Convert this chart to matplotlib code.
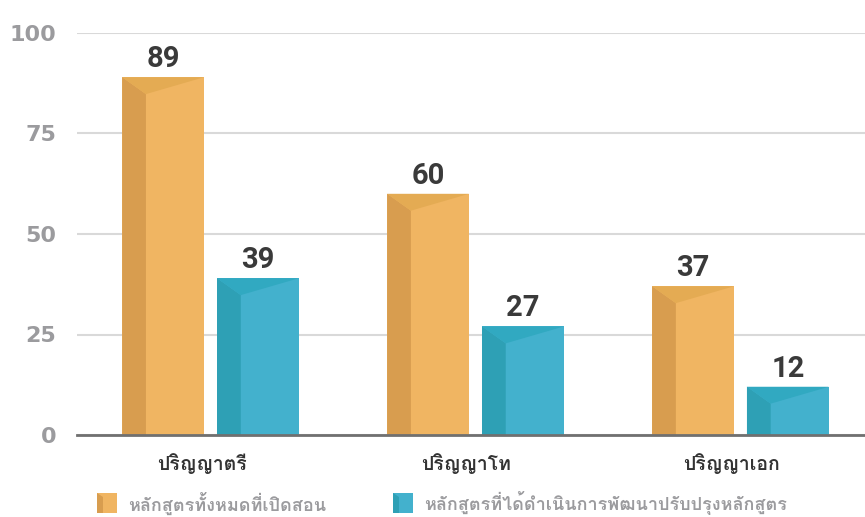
import matplotlib
matplotlib.use('Agg')
import matplotlib.pyplot as plt
import matplotlib.transforms as mtransforms
from matplotlib import font_manager
from matplotlib.ft2font import FT2Font
from matplotlib.patches import Polygon

# look for any installed font that actually has Thai glyphs
thai_font = 'DejaVu Sans'
for f in font_manager.fontManager.ttflist:
    try:
        if 0x0E01 in FT2Font(f.fname).get_charmap():
            thai_font = f.name
            break
    except Exception:
        pass

categories = ['ปริญญาตรี', 'ปริญญาโท', 'ปริญญาเอก']
series_names = ['หลักสูตรทั้งหมดที่เปิดสอน', 'หลักสูตรที่ได้ดำเนินการพัฒนาปรับปรุงหลักสูตร']
all_courses = [89, 60, 37]
improved_courses = [39, 27, 12]
yticks = [0, 25, 50, 75, 100]

# front, left side, top colours
orange = ('#F0B562', '#D89D4F', '#E4AB53')
teal = ('#43B1CD', '#2EA0B5', '#31A9C1')

fig = plt.figure(figsize=(8.65, 5.17), dpi=100)
ax = fig.add_axes([77/865, 1-435/517, 1-77/865, (435-33)/517])

bar_w = 0.309
offset = 0.179
side_frac = 0.29    # darker left strip, share of bar width
top_drop = 4.2      # how far the top triangle dips, data units

def draw_3d_bars(xs, vals, cols):
    bars = ax.bar(xs, vals, width=bar_w, color=cols[0], zorder=3)
    for b in bars:
        x0 = b.get_x()
        x1 = x0 + b.get_width()
        h = b.get_height()
        xm = x0 + side_frac * b.get_width()
        ax.add_patch(Polygon([(x0, 0), (x0, h), (xm, h - top_drop), (xm, 0)],
                             closed=True, facecolor=cols[1], edgecolor='none', zorder=4))
        ax.add_patch(Polygon([(x0, h), (x1, h), (xm, h - top_drop)],
                             closed=True, facecolor=cols[2], edgecolor='none', zorder=4))
        ax.text(b.get_x() + b.get_width()/2, h + 1.0, str(h), ha='center', va='bottom',
                fontsize=21, fontweight='bold', color='#3A3A3A', family=['Roboto', 'DejaVu Sans'])
    return bars

xs = list(range(len(categories)))
draw_3d_bars([x - offset for x in xs], all_courses, orange)
draw_3d_bars([x + offset for x in xs], improved_courses, teal)

ax.set_xlim(-0.504, 2.470)
ax.set_ylim(0, 100)
ax.set_yticks(yticks)
ax.set_yticklabels([str(t) for t in yticks], fontsize=16, fontweight='bold', color='#9B9B9E')
ax.tick_params(axis='y', length=0, pad=15)
ax.yaxis.grid(True, color='#D9D9D9', lw=1.5, zorder=0)
ax.set_axisbelow(True)
for s in ['top', 'right', 'left']:
    ax.spines[s].set_visible(False)
ax.spines['bottom'].set_color('#707070')
ax.spines['bottom'].set_linewidth(2)
ax.spines['bottom'].set_zorder(5)

ax.set_xticks(xs)
ax.set_xticklabels(categories, fontsize=14, fontweight='bold', color='#333333',
                   family=[thai_font, 'DejaVu Sans'])
ax.tick_params(axis='x', length=0, pad=13)
# the category names sit a little left of the group centre in the original
shift = mtransforms.ScaledTranslation(-9/100, 0, fig.dpi_scale_trans)
for lab in ax.get_xticklabels():
    lab.set_transform(lab.get_transform() + shift)

# legend drawn by hand as little 3d squares plus text
def legend_item(xpix, cols, label):
    lx = xpix / 865
    ly = 1 - 513/517
    w = 20/865
    hgt = 20/517
    fig.patches.append(Polygon([(lx, ly), (lx + w, ly), (lx + w, ly + hgt), (lx, ly + hgt)],
                               closed=True, transform=fig.transFigure, facecolor=cols[0], edgecolor='none'))
    fig.patches.append(Polygon([(lx, ly), (lx + 0.3*w, ly), (lx + 0.3*w, ly + hgt*0.8), (lx, ly + hgt)],
                               closed=True, transform=fig.transFigure, facecolor=cols[1], edgecolor='none'))
    fig.text(lx + w + 11/865, ly + hgt/2, label, fontsize=13, fontweight='bold', color='#9B9B9E',
             va='center', ha='left', family=[thai_font, 'DejaVu Sans'])

legend_item(97, orange, series_names[0])
legend_item(393, teal, series_names[1])

fig.savefig('out.png', dpi=100)
